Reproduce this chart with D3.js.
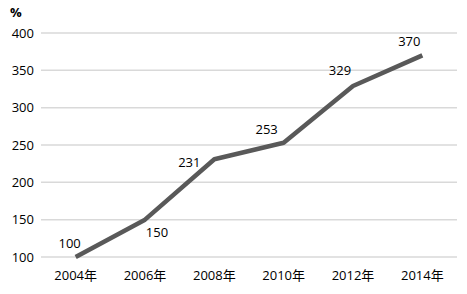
<!DOCTYPE html>
<html>
<head>
<meta charset="utf-8">
<script src="https://cdn.jsdelivr.net/npm/d3@7/dist/d3.min.js"></script>
<style>
    body { margin: 0; background: #fff; }
    svg text { font-family: "Open Sans", "Noto Sans CJK SC", sans-serif; fill: #000; }
</style>
</head>
<body>
<svg width="467" height="294"></svg>
<script>
var years = ["2004年", "2006年", "2008年", "2010年", "2012年", "2014年"];
var values = [100, 150, 231, 253, 329, 370];
var yTicks = [100, 150, 200, 250, 300, 350, 400];

var svg = d3.select("svg");
var mLeft = 41, mRight = 457, mTop = 33, mBottom = 257;

var x = d3.scaleBand().domain(years).range([mLeft, mRight]);
var y = d3.scaleLinear().domain([100, 400]).range([mBottom, mTop]);

// gridlines
svg.append("g").selectAll("line")
    .data(yTicks)
    .enter()
    .append("line")
    .attr("x1", mLeft)
    .attr("x2", mRight)
    .attr("y1", d => y(d))
    .attr("y2", d => y(d))
    .attr("stroke", "#d9d9d9")
    .attr("stroke-width", 1.5);

// y axis labels
var yAxis = d3.axisLeft(y).tickValues(yTicks).tickSize(0).tickPadding(7);
var gy = svg.append("g").attr("transform", "translate(" + mLeft + ",0)").call(yAxis);
gy.select(".domain").remove();
gy.selectAll("text").style("font-size", "13px").style("font-family", "Open Sans");

// x axis labels
var xAxis = d3.axisBottom(x).tickSize(0).tickPadding(14);
var gx = svg.append("g").attr("transform", "translate(0," + mBottom + ")").call(xAxis);
gx.select(".domain").remove();
gx.selectAll("text").style("font-size", "13px").style("font-family", "Open Sans, Noto Sans CJK SC");

// unit
svg.append("text").attr("x", 10).attr("y", 17).style("font-size", "13px").style("font-weight", "bold").text("%");

// line
var line = d3.line()
    .x((d, i) => x(years[i]) + x.bandwidth() / 2)
    .y(d => y(d));

svg.append("path")
    .datum(values)
    .attr("d", line)
    .attr("fill", "none")
    .attr("stroke", "#595959")
    .attr("stroke-width", 4.5)
    .attr("stroke-linejoin", "round");

// data labels (offset from each point)
var offs = [[-6, -14], [12, 13], [-25, 3], [-17, -13], [-13, -16], [-13, -14]];
svg.append("g").selectAll("text")
    .data(values)
    .enter()
    .append("text")
    .attr("x", (d, i) => x(years[i]) + x.bandwidth() / 2 + offs[i][0])
    .attr("y", (d, i) => y(d) + offs[i][1])
    .attr("text-anchor", "middle")
    .attr("dy", "0.35em")
    .style("font-size", "13px")
    .text(d => d);
</script>
</body>
</html>
